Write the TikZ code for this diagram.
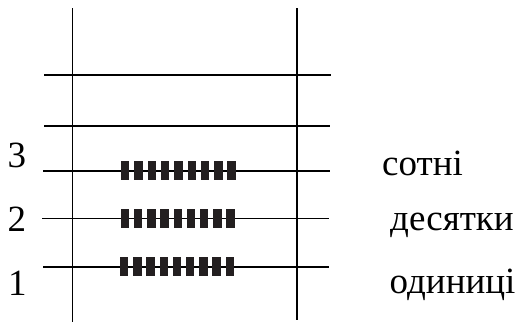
\documentclass[tikz,border=0pt]{standalone}
\usepackage{fontspec}
\setmainfont{Liberation Serif}
\begin{document}
\begin{tikzpicture}[x=1pt,y=-1pt,
  rod/.style={line width=1.6pt,black},
  bead/.style={fill={rgb,255:red,35;green,31;blue,32},draw=none},
  lbl/.style={inner sep=0pt,font=\fontsize{37}{40}\selectfont}]
\useasboundingbox (0,0) rectangle (520,322);
% frame verticals
\draw[rod] (72.3,8) -- (72.3,322);
\draw[rod] (296.7,8) -- (296.7,320);
% horizontal rods
\draw[rod] (44,75) -- (331,75);
\draw[rod] (44,125.7) -- (330,125.7);
\draw[rod] (43,170.7) -- (330,170.7);
\draw[rod] (42,218.3) -- (329,218.3);
\draw[rod] (43,266.7) -- (329,266.7);
% beads
\foreach \i in {0,...,8}{
  \fill[bead] ({121+13.3*\i},161) rectangle ++(8.4,19.3);
  \fill[bead] ({120.7+13.2*\i},208.7) rectangle ++(8.4,19.3);
  \fill[bead] ({120+13.2*\i},257) rectangle ++(8.4,19.3);
}
% labels
\node[lbl,anchor=base] (n3) at (17,167.5) {3};
\node[lbl,anchor=base] (n2) at (17,231.5) {2};
\node[lbl,anchor=base] (n1) at (17.5,295) {1};
\node[lbl,anchor=base west] (t3) at (382,175) {сотні};
\node[lbl,anchor=base west] (t2) at (390,230) {десятки};
\node[lbl,anchor=base west] (t1) at (389.5,293.5) {одиниці};
\end{tikzpicture}
\end{document}
